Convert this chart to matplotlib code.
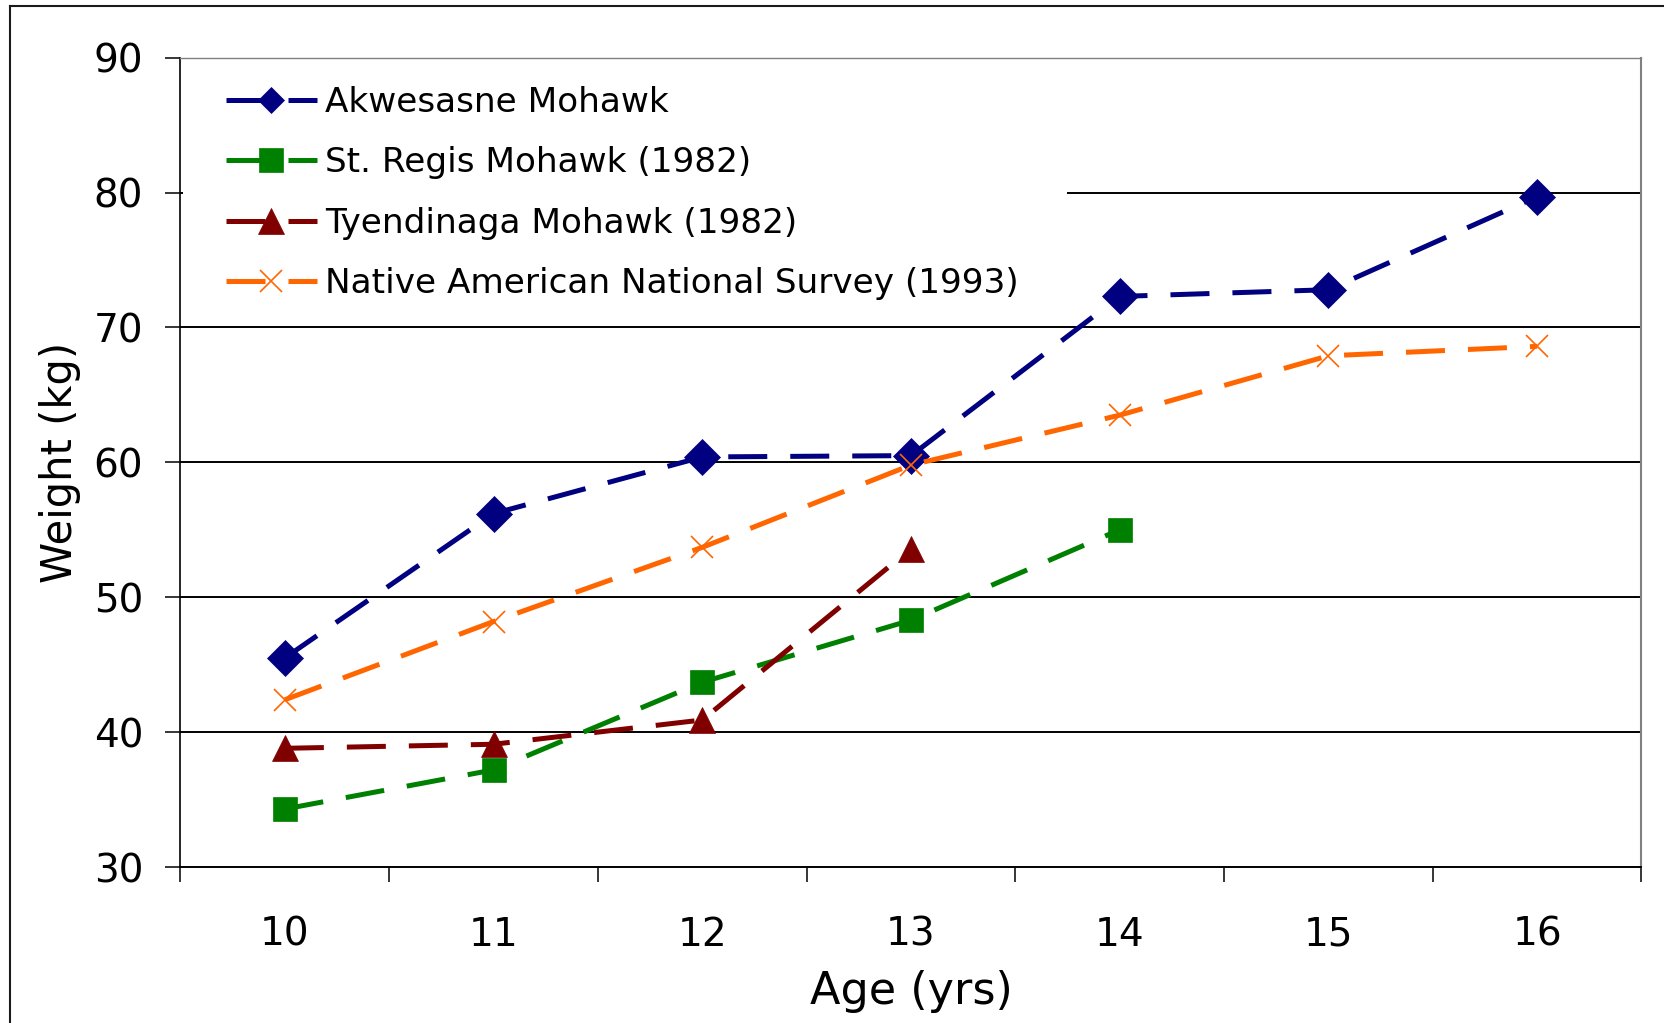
import numpy as np
import matplotlib
matplotlib.use("Agg")
import matplotlib.pyplot as plt
from matplotlib.lines import Line2D
from matplotlib.patches import Rectangle

plt.rcParams['font.family'] = ['DejaVu Sans']

# ---------------- data ----------------
ages = [10, 11, 12, 13, 14, 15, 16]
akwesasne = [45.5, 56.2, 60.4, 60.5, 72.3, 72.8, 79.7]
st_regis = [34.3, 37.2, 43.7, 48.3, 55.0]
tyendinaga = [38.8, 39.1, 40.9, 53.6]
national = [42.4, 48.2, 53.7, 59.8, 63.5, 67.9, 68.6]
series_names = ["Akwesasne Mohawk", "St. Regis Mohawk (1982)",
                "Tyendinaga Mohawk (1982)", "Native American National Survey (1993)"]
y_ticks = [30, 40, 50, 60, 70, 80, 90]
x_label = "Age (yrs)"
y_label = "Weight (kg)"

# ---------------- figure ----------------
W, H = 1665, 1023
fig = plt.figure(figsize=(W / 100, H / 100), dpi=100)
ax_l, ax_r, ax_t, ax_b = 180.5, 1641.5, 57.7, 867.0
ax = fig.add_axes([ax_l / W, 1 - ax_b / H, (ax_r - ax_l) / W, (ax_b - ax_t) / H])
ax.set_axisbelow(True)

LW = 3.6
DASH = (0, (7.8, 4.6))
styles = [
    dict(color="#000080", marker="D", ms=18.0, mew=0.5),
    dict(color="#008000", marker="s", ms=17.5, mew=0.5),
    dict(color="#800000", marker="^", ms=18.5, mew=0.5),
    dict(color="#FF6600", marker="x", ms=16.5, mew=1.2),
]
data = [akwesasne, st_regis, tyendinaga, national]

for vals, st in zip(data, styles):
    xs = np.arange(len(vals))
    ax.plot(xs, vals, linestyle=DASH, lw=LW, color=st["color"], marker=st["marker"],
            markersize=st["ms"], markeredgewidth=st["mew"],
            markerfacecolor=st["color"], markeredgecolor=st["color"],
            zorder=3, solid_capstyle="butt", dash_capstyle="butt")

# axes limits / ticks
n = len(ages)
ax.set_xlim(-0.5, n - 0.5)
ax.set_ylim(y_ticks[0], y_ticks[-1])
ax.set_yticks(y_ticks)
ax.set_yticklabels([str(v) for v in y_ticks], fontsize=28)
ax.set_xticks(np.arange(-0.5, n, 1.0))
ax.set_xticklabels([])
ax.set_xticks(np.arange(n), minor=True)
ax.set_xticklabels([str(a) for a in ages], minor=True, fontsize=28)
ax.tick_params(axis="x", which="major", direction="out", length=10.8, width=1.1, color="black")
ax.tick_params(axis="x", which="minor", length=0, pad=35)
ax.tick_params(axis="y", which="major", direction="out", length=10.8, width=1.1,
               color="black", pad=16)

# grid (inner lines only)
ax.yaxis.grid(True, color="black", lw=1.4)
for v, gl in zip(y_ticks, ax.yaxis.get_gridlines()):
    if v in (y_ticks[0], y_ticks[-1]):
        gl.set_visible(False)
ax.xaxis.grid(False)

# spines
ax.spines["left"].set_color("black")
ax.spines["left"].set_linewidth(1.2)
ax.spines["bottom"].set_color("black")
ax.spines["bottom"].set_linewidth(1.4)
ax.spines["top"].set_color("#808080")
ax.spines["top"].set_linewidth(1.0)
ax.spines["right"].set_color("#808080")
ax.spines["right"].set_linewidth(1.5)

ax.set_xlabel(x_label, fontsize=32, labelpad=11.5)
ax.set_ylabel(y_label, fontsize=30, labelpad=9)

# legend background (white box hiding grid)
lx0, lx1, ly0, ly1 = 183, 1067, 63, 312
ax.add_patch(Rectangle(((lx0 - ax_l) / (ax_r - ax_l), (ax_b - ly1) / (ax_b - ax_t)),
                       (lx1 - lx0) / (ax_r - ax_l), (ly1 - ly0) / (ax_b - ax_t),
                       transform=ax.transAxes, facecolor="white", edgecolor="none",
                       zorder=1))

legend_ms = [13.5, 17.5, 18.5, 16.5]
handles = []
for st, lms in zip(styles, legend_ms):
    handles.append(Line2D([], [], linestyle=DASH, lw=LW, color=st["color"], marker=st["marker"],
                          markersize=lms, markeredgewidth=st["mew"],
                          markerfacecolor=st["color"], markeredgecolor=st["color"],
                          dash_capstyle="butt"))
leg = ax.legend(handles, series_names, loc="upper left",
                bbox_to_anchor=(226 / W, 1 - 86 / H), bbox_transform=fig.transFigure,
                frameon=False, fontsize=24.7, numpoints=1, handlelength=2.65,
                handletextpad=0.25, labelspacing=0.80, borderpad=0, borderaxespad=0)
leg.set_zorder(5)

# outer figure frame (left and top edges visible)
fig.add_artist(Line2D([9.8 / W, 9.8 / W], [0, 1 - 6 / H], transform=fig.transFigure,
                      color="#1a1a1a", lw=1.5))
fig.add_artist(Line2D([9.8 / W, 1], [1 - 6 / H, 1 - 6 / H], transform=fig.transFigure,
                      color="#1a1a1a", lw=1.5))

fig.savefig("out.png", dpi=100, facecolor="white")
